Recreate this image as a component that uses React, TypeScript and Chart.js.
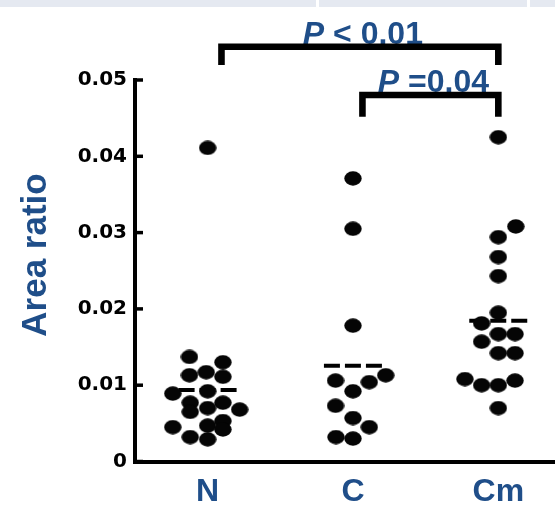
import React, { useEffect, useRef } from 'react';
import { Chart, registerables } from 'chart.js';

Chart.register(...registerables);

// ---- data ----
const CATEGORIES = ['N', 'C', 'Cm'];

const N_VALUES = [0.0411, 0.0137, 0.0130, 0.0117, 0.0113, 0.0111, 0.0089, 0.0092, 0.0077, 0.0077, 0.0065, 0.0070, 0.0068, 0.0045, 0.0047, 0.0053, 0.0042, 0.0032, 0.0029];
const N_JITTER = [0, -0.125, 0.105, -0.01, -0.125, 0.105, -0.24, 0, -0.12, 0.105, -0.12, 0, 0.22, -0.24, 0, 0.105, 0.105, -0.12, 0];

const C_VALUES = [0.0371, 0.0305, 0.0178, 0.0106, 0.0113, 0.0104, 0.0092, 0.0073, 0.0057, 0.0045, 0.0032, 0.0030];
const C_JITTER = [0, 0, 0, -0.12, 0.225, 0.112, 0, -0.12, 0, 0.112, -0.117, 0];

const CM_VALUES = [0.0425, 0.0308, 0.0294, 0.0268, 0.0243, 0.0195, 0.0181, 0.0157, 0.0167, 0.0167, 0.0142, 0.0142, 0.0108, 0.0100, 0.0100, 0.0106, 0.0070];
const CM_JITTER = [0, 0.12, 0, 0, 0, 0, -0.115, -0.115, 0, 0.115, 0, 0.115, -0.23, -0.115, 0, 0.115, 0];

const MEANS = [0.00937, 0.01256, 0.01845];

const Y_TICKS = [0, 0.01, 0.02, 0.03, 0.04, 0.05];
const Y_TICK_LABELS = ['0', '0.01', '0.02', '0.03', '0.04', '0.05'];

const Y_TITLE = 'Area ratio';

// significance brackets (category units / data units)
const BRACKET_FROM = [0.095, 1.065];
const BRACKET_TO = [2, 2];
const BRACKET_LEVEL = [0.05436, 0.04803];
const BRACKET_LEG_END = [0.05196, 0.04519];
const BRACKET_TEXT = [' < 0.01', ' =0.04'];

const BLUE = '#1F4E89';

export default function App() {
  const ref = useRef<HTMLCanvasElement>(null);

  useEffect(() => {
    const canvas = ref.current;
    if (!canvas) return;

    const dot = document.createElement('canvas');
    dot.width = 18;
    dot.height = 15;
    const dctx = dot.getContext('2d')!;
    dctx.fillStyle = '#050505';
    dctx.beginPath();
    dctx.ellipse(9, 7.5, 8.7, 7.2, 0, 0, Math.PI * 2);
    dctx.fill();

    const groups = [
      { values: N_VALUES, jitter: N_JITTER },
      { values: C_VALUES, jitter: C_JITTER },
      { values: CM_VALUES, jitter: CM_JITTER },
    ];
    const MEAN_HALF = 0.2;

    const datasets: any[] = [];
    groups.forEach((g, i) => {
      datasets.push({
        data: g.values.map((v, k) => ({ x: i + g.jitter[k], y: v })),
        pointStyle: dot,
        pointRadius: 9,
        showLine: false,
        order: 0,
      });
    });
    MEANS.forEach((m, i) => {
      datasets.push({
        data: [
          { x: i - MEAN_HALF, y: m },
          { x: i + MEAN_HALF, y: m },
        ],
        showLine: true,
        borderColor: '#000',
        borderWidth: 4,
        borderDash: [16, 5],
        pointRadius: 0,
        order: 1,
      });
    });

    const annot = {
      id: 'annot',
      beforeDraw(chart: any) {
        const ctx = chart.ctx;
        ctx.save();
        ctx.fillStyle = '#E5E9F1';
        ctx.fillRect(0, 0, chart.width, 7);
        ctx.fillStyle = '#fff';
        ctx.fillRect(316, 0, 3, 7);
        ctx.fillRect(527, 0, 3, 7);
        ctx.restore();
      },
      afterDraw(chart: any) {
        const { ctx, chartArea } = chart;
        const xs = chart.scales.x;
        const ys = chart.scales.y;
        ctx.save();
        // inward tick marks
        ctx.strokeStyle = '#000';
        ctx.lineWidth = 3.5;
        ys.ticks.forEach((t: any) => {
          const py = ys.getPixelForValue(t.value);
          ctx.beginPath();
          ctx.moveTo(chartArea.left, py);
          ctx.lineTo(chartArea.left + 8, py);
          ctx.stroke();
        });
        // y title
        ctx.save();
        ctx.translate(36.5, 255);
        ctx.rotate(-Math.PI / 2);
        ctx.font = 'bold 35px "Liberation Sans", Arial, sans-serif';
        ctx.fillStyle = BLUE;
        ctx.textAlign = 'center';
        ctx.textBaseline = 'middle';
        ctx.fillText(Y_TITLE, 0, 0);
        ctx.restore();
        // brackets
        BRACKET_FROM.forEach((from, i) => {
          const x1 = xs.getPixelForValue(from);
          const x2 = xs.getPixelForValue(BRACKET_TO[i]);
          const yb = ys.getPixelForValue(BRACKET_LEVEL[i]);
          const yl = ys.getPixelForValue(BRACKET_LEG_END[i]);
          const lw = 6.6;
          const italic = 'italic bold 32px "Liberation Sans", Arial, sans-serif';
          const bold = 'bold 32px "Liberation Sans", Arial, sans-serif';
          ctx.font = italic;
          const wP = ctx.measureText('P').width;
          ctx.font = bold;
          const wR = ctx.measureText(BRACKET_TEXT[i]).width;
          const cx = (x1 + x2) / 2 + 3;
          const sx = cx - (wP + wR) / 2;
          const base = yb - lw / 2 + 0.5;
          ctx.fillStyle = BLUE;
          ctx.textAlign = 'left';
          ctx.textBaseline = 'alphabetic';
          ctx.font = italic;
          ctx.fillText('P', sx, base);
          ctx.font = bold;
          ctx.fillText(BRACKET_TEXT[i], sx + wP, base);
          ctx.strokeStyle = '#000';
          ctx.lineWidth = lw;
          ctx.lineJoin = 'miter';
          ctx.lineCap = 'butt';
          ctx.beginPath();
          ctx.moveTo(x1, yl);
          ctx.lineTo(x1, yb);
          ctx.lineTo(x2, yb);
          ctx.lineTo(x2, yl);
          ctx.stroke();
        });
        ctx.restore();
      },
    };

    const chart = new Chart(canvas, {
      type: 'scatter',
      data: { datasets },
      options: {
        animation: false,
        responsive: false,
        devicePixelRatio: 1,
        layout: { autoPadding: false, padding: { top: 80, left: 0, right: 0, bottom: 0 } },
        plugins: {
          legend: { display: false },
          tooltip: { enabled: false },
        },
        scales: {
          x: {
            type: 'linear',
            min: -0.5,
            max: 2.39,
            afterFit: (s: any) => {
              s.height = 43.5;
            },
            afterBuildTicks: (s: any) => {
              s.ticks = CATEGORIES.map((_, i) => ({ value: i }));
            },
            grid: { display: false, drawTicks: false },
            border: { display: true, color: '#000', width: 4 },
            ticks: {
              padding: 11,
              color: BLUE,
              font: { family: '"Liberation Sans", Arial, sans-serif', size: 32, weight: 'bold' },
              callback: (v: any) => CATEGORIES[Math.round(Number(v))] ?? '',
            },
          },
          y: {
            type: 'linear',
            min: 0,
            max: 0.05,
            afterFit: (s: any) => {
              s.width = 135;
            },
            afterBuildTicks: (s: any) => {
              s.ticks = Y_TICKS.map((v) => ({ value: v }));
            },
            grid: { display: false, drawTicks: false },
            border: { display: true, color: '#000', width: 4 },
            ticks: {
              padding: 8,
              color: '#000',
              font: { family: '"DejaVu Sans", sans-serif', size: 20, weight: 'bold' },
              callback: (v: any) => {
                const idx = Y_TICKS.findIndex((t) => Math.abs(t - Number(v)) < 1e-9);
                return idx >= 0 ? Y_TICK_LABELS[idx] : '';
              },
            },
          },
        },
      },
      plugins: [annot],
    } as any);

    return () => chart.destroy();
  }, []);

  return (
    <div style={{ position: 'absolute', left: 0, top: 0, width: 555, height: 505, background: '#fff' }}>
      <canvas ref={ref} width={555} height={505} style={{ display: 'block', width: 555, height: 505 }} />
    </div>
  );
}
